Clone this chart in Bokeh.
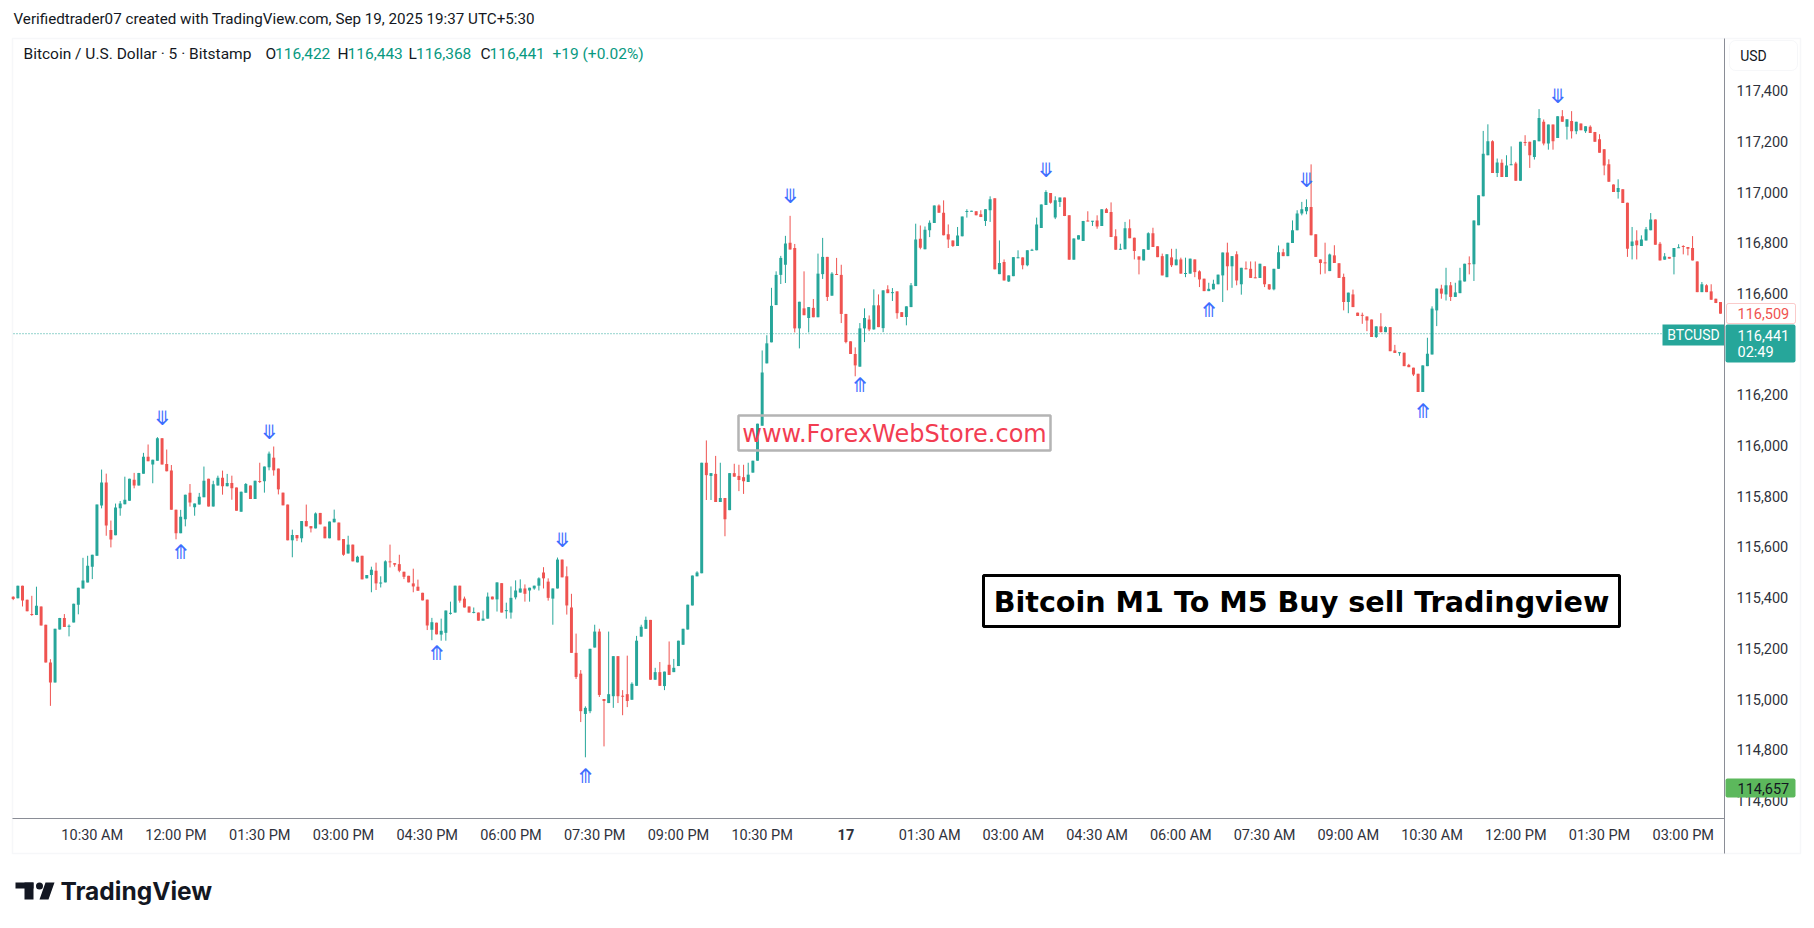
import pandas as pd
from bokeh.plotting import figure
from bokeh.models import (Range1d, FixedTicker, NumeralTickFormatter, Label,
                          ColumnDataSource, BoxAnnotation, PolyAnnotation)
from bokeh.core.properties import value
from bokeh.embed import file_html
from bokeh.resources import INLINE

# ---------------- data (BTCUSD, Bitstamp, 5-minute bars) ----------------
bar_start = "2025-09-16 09:05"

opens = [
115403,115397,115447,115392,115334,115331,115365,115293,115144,115065,
115274,115320,115285,115302,115372,115436,115460,115522,115565,115763,
115854,115667,115646,115752,115768,115782,115865,115842,115889,115956,
115925,115940,116029,115927,115901,115747,115654,115709,115814,115756,
115767,115796,115869,115759,115842,115873,115839,115852,115834,115739,
115814,115842,115789,115860,115859,115914,115952,115909,115814,115767,
115626,115647,115634,115702,115682,115673,115734,115680,115634,115697,
115696,115631,115574,115609,115539,115565,115476,115489,115506,115456,
115460,115543,115536,115532,115502,115486,115456,115443,115419,115392,
115273,115301,115254,115261,115336,115341,115447,115396,115365,115340,
115341,115309,115317,115404,115393,115457,115347,115341,115401,115420,
115436,115428,115436,115447,115499,115463,115396,115436,115550,115484,
115361,115182,115100,114941,114952,115203,115266,115000,114984,115011,
115169,115013,115019,114997,115052,115246,115277,115312,115076,115106,
115051,115135,115106,115130,115214,115274,115369,115484,115496,115932,
115880,115888,115777,115793,115745,115891,115880,115875,115856,115893,
115940,116078,116324,116407,116554,116673,116713,116800,116779,116462,
116541,116503,116543,116506,116676,116744,116591,116676,116673,116519,
116411,116361,116311,116462,116497,116458,116553,116463,116616,116601,
116608,116526,116507,116546,116629,116816,116774,116849,116878,116947,
116918,116833,116809,116787,116825,116922,116924,116924,116912,116886,
116928,116975,116676,116724,116647,116668,116739,116742,116711,116768,
116770,116858,116949,116996,116899,116961,116978,116908,116733,116813,
116807,116888,116884,116888,116866,116932,116921,116825,116772,116774,
116857,116820,116746,116730,116772,116837,116786,116747,116664,116742,
116711,116734,116677,116678,116734,116687,116658,116609,116616,116636,
116671,116761,116707,116754,116636,116699,116697,116663,116661,116707,
116636,116616,116697,116762,116747,116799,116849,116915,116924,116941,
116833,116734,116722,116688,116750,116719,116665,116566,116596,116524,
116515,116509,116497,116428,116470,116447,116467,116375,116365,116366,
116318,116307,116283,116211,116313,116359,116533,116619,116596,116632,
116586,116601,116647,116719,116715,116869,116983,117145,117200,117075,
117115,117059,117106,117112,117044,117196,117198,117138,117200,117277,
117191,117266,117213,117299,117257,117280,117240,117270,117240,117257,
117237,117208,117169,117109,117030,117000,117011,116958,116787,116809,
116787,116809,116849,116892,116796,116733,116744,116744,116779,116787,
116783,116779,116726,116605,116632,116608,116579,116566,
]

highs = [
115405,115447,115447,115392,115407,115443,115365,115293,115157,115277,
115320,115335,115294,115376,115439,115557,115565,115569,115767,115905,
115889,115704,115771,115781,115877,115869,115892,115892,115971,116004,
115944,116033,116029,115984,115923,115747,115746,115806,115848,115771,
115813,115917,115869,115861,115881,115901,115888,115881,115834,115818,
115852,115842,115861,115932,115917,115976,115996,115909,115814,115767,
115668,115647,115702,115767,115682,115736,115734,115680,115700,115747,
115696,115631,115644,115609,115565,115565,115489,115522,115538,115484,
115547,115609,115536,115569,115502,115486,115514,115471,115419,115392,
115320,115301,115317,115349,115384,115447,115447,115404,115365,115361,
115341,115349,115420,115404,115460,115457,115380,115444,115468,115472,
115452,115439,115447,115480,115520,115476,115436,115558,115550,115523,
115415,115258,115114,114971,115198,115293,115277,115000,115266,115169,
115169,115035,115171,115066,115249,115293,115325,115312,115123,115146,
115108,115227,115158,115230,115277,115372,115487,115504,115932,116020,
115891,115959,115932,115793,115891,115928,115924,115924,115932,115940,
116086,116375,116435,116622,116687,116748,116827,116906,116795,116567,
116687,116546,116578,116757,116819,116744,116684,116740,116713,116519,
116411,116387,116483,116541,116513,116616,116596,116612,116632,116621,
116608,116526,116549,116641,116875,116868,116864,116888,116947,116951,
116967,116872,116809,116862,116903,116932,116926,116924,116928,116932,
116983,116975,116809,116734,116671,116743,116770,116742,116770,116776,
116899,116951,117007,116996,116983,116978,116978,116908,116817,116829,
116886,116924,116886,116908,116932,116937,116959,116853,116796,116882,
116892,116820,116746,116774,116841,116859,116786,116757,116754,116776,
116776,116741,116741,116737,116734,116691,116658,116642,116654,116674,
116761,116800,116747,116766,116701,116726,116726,116726,116717,116707,
116636,116697,116789,116776,116800,116888,116928,116961,116971,117109,
116833,116734,116800,116757,116790,116719,116678,116603,116615,116524,
116524,116509,116497,116470,116522,116470,116467,116397,116367,116366,
116322,116307,116283,116316,116425,116549,116619,116634,116701,116645,
116642,116701,116717,116746,116888,116987,117241,117267,117204,117132,
117129,117145,117180,117119,117198,117224,117198,117204,117327,117286,
117266,117266,117299,117323,117287,117319,117277,117270,117259,117263,
117237,117228,117169,117129,117030,117050,117011,116958,116862,116849,
116829,116862,116917,116892,116803,116759,116744,116779,116794,116790,
116783,116826,116726,116645,116636,116636,116579,116566,
]

lows = [
115390,115397,115365,115346,115328,115331,115290,115144,114973,115065,
115274,115284,115247,115302,115334,115436,115460,115473,115565,115752,
115644,115598,115646,115723,115768,115782,115831,115842,115889,115938,
115851,115940,115925,115898,115747,115630,115654,115681,115759,115723,
115767,115796,115759,115759,115842,115806,115839,115786,115743,115739,
115814,115789,115789,115852,115814,115902,115881,115807,115764,115626,
115559,115623,115618,115681,115657,115673,115689,115634,115634,115697,
115626,115565,115574,115543,115539,115472,115476,115421,115430,115440,
115460,115519,115522,115500,115473,115460,115421,115427,115389,115272,
115232,115255,115230,115230,115333,115341,115380,115361,115341,115338,
115309,115309,115317,115393,115345,115341,115317,115317,115393,115420,
115384,115384,115431,115428,115436,115388,115293,115436,115480,115333,
115182,115079,114909,114770,114944,115203,115008,114813,114984,114965,
114984,114936,114968,114997,115052,115246,115277,115076,115076,115052,
115035,115095,115106,115130,115214,115274,115369,115484,115496,115785,
115785,115777,115777,115642,115745,115877,115820,115809,115856,115893,
115940,116078,116324,116407,116554,116637,116641,116773,116446,116383,
116514,116446,116506,116506,116657,116570,116591,116673,116483,116403,
116361,116273,116311,116408,116451,116457,116467,116447,116601,116570,
116500,116507,116474,116546,116629,116774,116774,116822,116878,116918,
116829,116779,116783,116787,116825,116899,116923,116908,116901,116866,
116882,116695,116676,116651,116645,116668,116739,116695,116707,116768,
116770,116858,116949,116954,116893,116941,116905,116733,116733,116813,
116807,116884,116866,116855,116866,116917,116822,116772,116772,116774,
116818,116734,116675,116730,116772,116783,116743,116671,116664,116704,
116711,116678,116664,116678,116664,116625,116609,116609,116616,116636,
116566,116612,116622,116632,116595,116695,116661,116660,116661,116625,
116614,116612,116697,116747,116747,116799,116849,116908,116912,116829,
116744,116675,116678,116688,116720,116661,116533,116522,116546,116511,
116480,116451,116428,116424,116447,116447,116372,116365,116354,116313,
116309,116274,116211,116211,116313,116359,116471,116579,116572,116570,
116586,116601,116647,116675,116649,116869,116983,117145,117075,117059,
117059,117059,117106,117044,117044,117182,117095,117128,117200,117184,
117167,117167,117213,117277,117207,117211,117228,117244,117233,117233,
117198,117155,117066,117040,117000,116974,116957,116744,116734,116734,
116787,116809,116849,116792,116730,116733,116737,116675,116779,116754,
116750,116730,116605,116605,116605,116575,116562,116520,
]

closes = [
115394,115447,115389,115346,115332,115368,115290,115144,115065,115277,
115320,115284,115289,115376,115439,115467,115526,115569,115767,115854,
115684,115629,115755,115771,115786,115869,115842,115892,115956,115938,
115944,116029,115925,115898,115747,115654,115719,115806,115775,115771,
115798,115861,115759,115847,115873,115839,115852,115831,115743,115818,
115848,115789,115861,115856,115917,115968,115902,115827,115764,115626,
115647,115634,115702,115681,115673,115732,115689,115634,115700,115711,
115626,115569,115609,115543,115561,115472,115489,115510,115456,115459,
115543,115539,115530,115506,115482,115460,115444,115427,115389,115290,
115303,115255,115269,115349,115340,115447,115388,115361,115341,115343,
115309,115317,115404,115393,115460,115341,115350,115399,115428,115436,
115415,115439,115447,115476,115476,115399,115436,115550,115480,115369,
115182,115087,114952,114965,115198,115266,115016,114992,115019,115169,
115011,115009,114992,115060,115230,115285,115312,115076,115106,115052,
115108,115095,115123,115230,115277,115372,115487,115499,115932,115883,
115891,115777,115793,115709,115891,115877,115864,115859,115885,115940,
116086,116288,116403,116551,116673,116740,116797,116773,116462,116567,
116514,116546,116506,116678,116744,116586,116678,116673,116519,116408,
116361,116316,116462,116503,116458,116553,116467,116612,116601,116605,
116522,116507,116549,116632,116813,116780,116851,116879,116947,116918,
116829,116813,116787,116828,116903,116925,116925,116908,116901,116932,
116971,116695,116720,116651,116671,116743,116742,116711,116770,116772,
116872,116951,117000,116958,116967,116978,116905,116733,116817,116829,
116886,116884,116886,116864,116932,116917,116822,116772,116776,116857,
116818,116767,116733,116774,116837,116783,116743,116671,116754,116711,
116734,116678,116680,116737,116684,116655,116609,116618,116638,116674,
116761,116707,116747,116651,116701,116695,116661,116660,116717,116636,
116616,116697,116762,116747,116800,116849,116915,116932,116941,116829,
116744,116720,116719,116753,116720,116661,116566,116603,116546,116511,
116512,116493,116428,116470,116447,116467,116372,116365,116367,116313,
116309,116280,116211,116316,116362,116540,116619,116599,116632,116586,
116604,116651,116717,116715,116888,116987,117151,117200,117075,117116,
117059,117105,117109,117044,117198,117194,117145,117204,117292,117191,
117266,117200,117299,117277,117287,117240,117277,117244,117259,117233,
117198,117155,117105,117040,117000,117016,116957,116776,116805,116790,
116813,116853,116892,116792,116730,116746,116737,116779,116781,116783,
116776,116730,116605,116636,116605,116575,116562,116520,
]

# indicator signal bars (bar numbers)
sell_bars = [32, 55, 118, 167, 222, 278, 332]
buy_bars = [36, 91, 123, 182, 257, 303]

# time-axis ticks
tick_times = ["2025-09-16 10:30", "2025-09-16 12:00", "2025-09-16 13:30", "2025-09-16 15:00",
              "2025-09-16 16:30", "2025-09-16 18:00", "2025-09-16 19:30", "2025-09-16 21:00",
              "2025-09-16 22:30", "2025-09-17 00:00", "2025-09-17 01:30", "2025-09-17 03:00",
              "2025-09-17 04:30", "2025-09-17 06:00", "2025-09-17 07:30", "2025-09-17 09:00",
              "2025-09-17 10:30", "2025-09-17 12:00", "2025-09-17 13:30", "2025-09-17 15:00"]
tick_labels = ["10:30 AM", "12:00 PM", "01:30 PM", "03:00 PM", "04:30 PM", "06:00 PM",
               "07:30 PM", "09:00 PM", "10:30 PM", "17", "01:30 AM", "03:00 AM", "04:30 AM",
               "06:00 AM", "07:30 AM", "09:00 AM", "10:30 AM", "12:00 PM", "01:30 PM", "03:00 PM"]
price_ticks = [114600, 114800, 115000, 115200, 115400, 115600, 115800, 116000,
               116200, 116400, 116600, 116800, 117000, 117200, 117400]

last_price = 116441
last_visible_close = 116509
low_marker = 114657
countdown = "02:49"
legend_values = {"O": "116,422", "H": "116,443", "L": "116,368", "C": "116,441"}
legend_change = "+19 (+0.02%)"

# ---------------- layout helpers (page pixel -> data coords) ----------------
X0, XS = 12.7, 4.652
Y0, P0, YS = 445.0, 116000.0, 0.2535


def dx(px):
    return (px - X0) / XS


def dy(py):
    return P0 - (py - Y0) / YS


t0 = pd.Timestamp(bar_start)
step = pd.Timedelta(minutes=5)


def bar_of(ts):
    return int((pd.Timestamp(ts) - t0) / step)


UP, DOWN = "#26a69a", "#ef5350"
FONT = "Roboto"
TXT = "#131722"
AX_TXT = "#2f323c"
BORDER = "#e0e3eb"
AXLINE = "#8a8d96"

n = len(opens)
xs = list(range(n))
colors = [UP if c >= o else DOWN for o, c in zip(opens, closes)]
min_body = 1.0 / YS
tops, bots = [], []
for o, c in zip(opens, closes):
    t, b = max(o, c), min(o, c)
    if t - b < min_body:
        m = (t + b) / 2
        t, b = m + min_body / 2, m - min_body / 2
    tops.append(t)
    bots.append(b)

src = ColumnDataSource(dict(x=xs, high=highs, low=lows, top=tops, bottom=bots, color=colors))

W, H = 1812, 926
p = figure(width=W, height=H, output_backend="svg", toolbar_location=None,
           x_range=Range1d(dx(0), dx(W)), y_range=Range1d(dy(H), dy(0)),
           y_axis_location="right",
           min_border=0, min_border_left=0, min_border_right=0,
           min_border_top=0, min_border_bottom=0,
           background_fill_color="white", border_fill_color="white")
p.grid.visible = False
p.outline_line_color = None

# pane border
p.add_layout(BoxAnnotation(left=dx(12), right=dx(1800), top=dy(38), bottom=dy(853),
                           fill_color=None, line_color=BORDER, line_width=1.5,
                           level="underlay"))

# price axis (right)
ya = p.yaxis[0]
ya.fixed_location = dx(1724)
ya.bounds = (dy(853), dy(38))
ya.ticker = FixedTicker(ticks=price_ticks)
ya.formatter = NumeralTickFormatter(format="0,0")
ya.major_tick_line_color = None
ya.minor_tick_line_color = None
ya.major_tick_out = 0
ya.major_tick_in = 0
ya.major_label_standoff = 12
ya.axis_line_color = AXLINE
ya.major_label_text_font = FONT
ya.major_label_text_font_size = "14.5px"
ya.major_label_text_color = AX_TXT

# time axis (bottom)
tick_idx = [bar_of(t) for t in tick_times]
day_ticks = [(i, l) for i, l in zip(tick_idx, tick_labels) if ":" not in l]
time_ticks = [(i, l) for i, l in zip(tick_idx, tick_labels) if ":" in l]
xa = p.xaxis[0]
xa.fixed_location = dy(818)
xa.bounds = (dx(12), dx(1724))
xa.ticker = FixedTicker(ticks=[i for i, _ in time_ticks])
xa.major_label_overrides = {i: l for i, l in time_ticks}
xa.major_tick_line_color = None
xa.minor_tick_line_color = None
xa.major_tick_out = 0
xa.major_tick_in = 0
xa.major_label_standoff = 8
xa.axis_line_color = AXLINE
xa.major_label_text_font = FONT
xa.major_label_text_font_size = "14.5px"
xa.major_label_text_color = AX_TXT
for i, l in day_ticks:
    p.add_layout(Label(x=i, y=dy(834), text=l, text_align="center", text_baseline="middle",
                       text_font=FONT, text_font_size="14.5px", text_font_style="bold",
                       text_color=AX_TXT))

# last price dotted line (inside the pane only)
p.segment(x0=[dx(13)], y0=[last_price], x1=[dx(1724)], y1=[last_price],
          line_color=UP, line_dash="1 2", line_width=1, level="underlay")

# candles
p.segment(x0="x", y0="low", x1="x", y1="high", line_color="color", line_width=1, source=src)
p.vbar(x="x", width=0.64, top="top", bottom="bottom", fill_color="color",
       line_color=None, source=src)

# signal arrows
p.text(x=sell_bars, y=[highs[i] + 78 for i in sell_bars], text=["⤋"] * len(sell_bars),
       text_align="center", text_baseline="middle", text_font=value("DejaVu Sans"),
       text_font_size="20px", text_color="#3d6dff")
p.text(x=buy_bars, y=[lows[i] - 74 for i in buy_bars], text=["⤊"] * len(buy_bars),
       text_align="center", text_baseline="middle", text_font=value("DejaVu Sans"),
       text_font_size="20px", text_color="#3d6dff")

# watermark boxes
p.quad(left=[dx(738)], right=[dx(1050)], top=[dy(415)], bottom=[dy(450)],
       fill_color=None, line_color="#b4b4b4", line_width=2.5)
p.text(x=[dx(894)], y=[dy(433)], text=["www.ForexWebStore.com"], text_align="center",
       text_baseline="middle", text_font=value("DejaVu Sans"), text_font_size="24px",
       text_color="#f23d52")
p.quad(left=[dx(983)], right=[dx(1619)], top=[dy(575)], bottom=[dy(626)],
       fill_color="white", line_color="black", line_width=3)
p.text(x=[dx(1301)], y=[dy(601)], text=["Bitcoin M1 To M5 Buy sell Tradingview"],
       text_align="center", text_baseline="middle", text_font=value("DejaVu Sans"),
       text_font_size="28.6px", text_font_style="bold", text_color="black")

# BTCUSD tag
p.quad(left=[dx(1662)], right=[dx(1724)], top=[dy(324)], bottom=[dy(345)],
       fill_color=UP, line_color=None)
p.text(x=[dx(1693)], y=[dy(334.5)], text=["BTCUSD"], text_align="center",
       text_baseline="middle", text_font=value(FONT), text_font_size="14px",
       text_color="white")


def lab(px, py, text, color=TXT, size="15px", align="left", style="normal", font=FONT):
    p.add_layout(Label(x=dx(px), y=dy(py), text=text, text_align=align,
                       text_baseline="middle", text_font=font, text_font_size=size,
                       text_font_style=style, text_color=color))


def box(l, r, t, b, fill, line=None, radius=0, lw=1):
    p.add_layout(BoxAnnotation(left=dx(l), right=dx(r), top=dy(t), bottom=dy(b),
                               fill_color=fill, fill_alpha=1 if fill else 0,
                               line_color=line, line_width=lw, border_radius=radius))


# header texts
lab(13, 18.5, "Verifiedtrader07 created with TradingView.com, Sep 19, 2025 19:37 UTC+5:30",
    size="15.2px")
lab(23, 53, "Bitcoin / U.S. Dollar · 5 · Bitstamp", size="15.5px")
GREEN_TXT = "#089981"
for (k, v), (kx, vx) in zip(legend_values.items(),
                            [(265, 274.5), (337, 347), (408, 415.5), (480, 489)]):
    lab(kx, 53, k, size="15.5px")
    lab(vx, 53, v, color=GREEN_TXT, size="15.5px")
lab(552, 53, legend_change, color=GREEN_TXT, size="15.5px")

# price-scale tags
box(1729, 1797, 40, 70, "white", line=BORDER, radius=6)
lab(1753, 55, "USD", size="14px", align="center")
box(1726, 1795, 303, 323, "white", line=DOWN, radius=2)
lab(1737, 313, f"{last_visible_close:,}", color=DOWN, size="14.5px")
box(1725, 1795, 324, 362, UP, radius=2)
lab(1737, 334.5, f"{last_price:,}", color="white", size="14.5px")
lab(1737, 352, countdown, color="white", size="14.5px")
box(1725, 1795, 778, 797, "#5cb85c", radius=2)
lab(1737, 787.5, f"{low_marker:,}", color=TXT, size="14.5px")

# TradingView logo
box(15, 33, 882, 888, TXT)
box(24, 33, 882, 899, TXT)
box(35.5, 42.5, 882, 889, TXT, radius=4)
p.add_layout(PolyAnnotation(xs=[dx(45), dx(54), dx(48), dx(39)],
                            ys=[dy(882), dy(882), dy(899), dy(899)],
                            fill_color=TXT, fill_alpha=1, line_color=None))
lab(60, 890, "TradingView", size="24.5px", style="bold", font="Inter")

open("out.html", "w").write(file_html(p, INLINE))
